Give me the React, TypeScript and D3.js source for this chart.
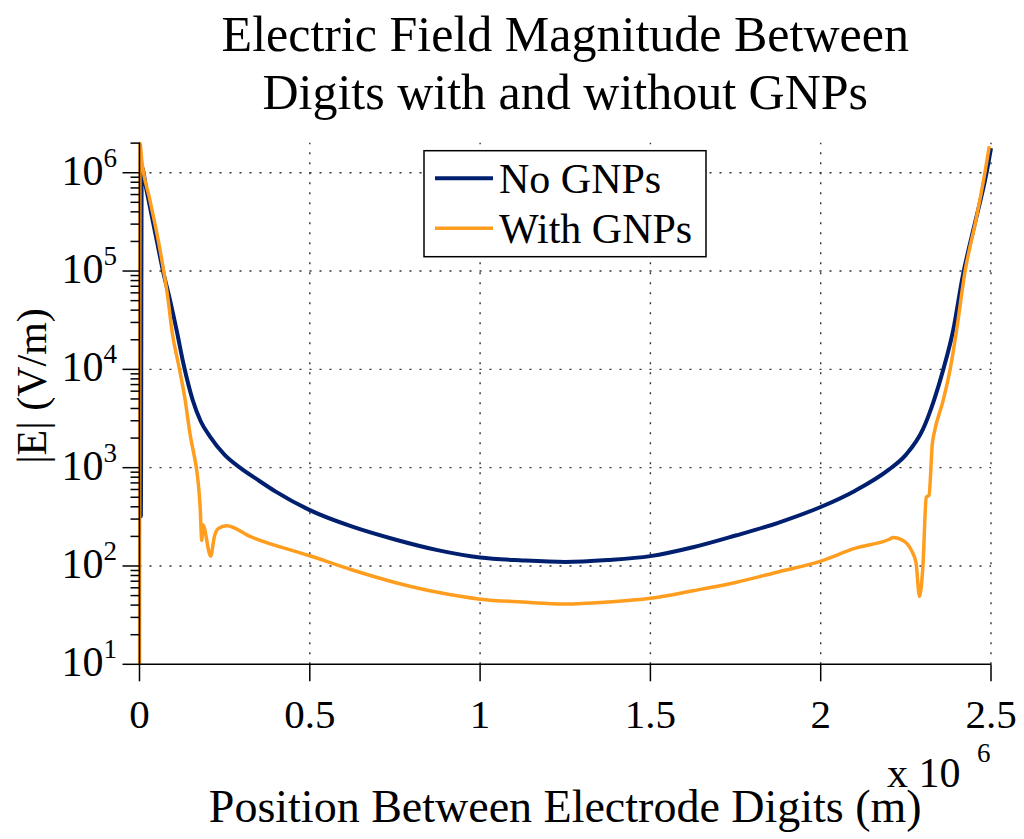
import React from 'react';
import * as d3 from 'd3';

// position along the gap, in units of 10^6 as printed on the axis
const noGnpsX = [
  0, 0.004, 0.0065, 0.02, 0.05, 0.069, 0.09, 0.109, 0.13, 0.156, 0.18, 0.207,
  0.25, 0.295, 0.35, 0.4, 0.5, 0.625, 0.75, 0.875, 1.0, 1.125, 1.25, 1.375,
  1.5, 1.625, 1.75, 1.875, 2.0, 2.1, 2.2, 2.25, 2.3, 2.333, 2.36, 2.389, 2.417,
  2.45, 2.487, 2.5,
];
const noGnpsE = [
  320, 320, 1.15e6, 6.8e5, 2.1e5, 1.0e5, 5.0e4, 2.5e4, 1.1e4, 4.9e3, 2.95e3,
  2.07e3, 1.35e3, 1.0e3, 740, 570, 370, 251, 186, 145, 122, 114, 110, 115,
  126, 155, 204, 275, 398, 580, 955, 1350, 2450, 4900, 1.0e4, 2.5e4, 8.9e4,
  2.8e5, 1.0e6, 1.78e6,
];

const withGnpsX = [
  0, 0.0015, 0.0065, 0.03, 0.06, 0.085, 0.095, 0.115, 0.134, 0.148, 0.163,
  0.166, 0.178, 0.183, 0.186, 0.209, 0.22, 0.231, 0.256, 0.324, 0.5, 0.625,
  0.75, 0.875, 1.0, 1.125, 1.25, 1.375, 1.5, 1.625, 1.75, 1.875, 2.0, 2.1,
  2.2, 2.213, 2.242, 2.266, 2.28, 2.29, 2.3, 2.31, 2.318, 2.328, 2.333, 2.36,
  2.38, 2.399, 2.424, 2.455, 2.482, 2.495,
];
const withGnpsE = [
  1, 2.0e6, 1.35e6, 5.4e5, 1.66e5, 4.8e4, 2.5e4, 1.1e4, 4.9e3, 2.24e3, 1.2e3,
  1.05e3, 400, 182, 263, 126, 200, 240, 257, 200, 127, 91, 68, 54, 46, 43, 41,
  43, 47, 56, 68, 87, 112, 151, 186, 195, 182, 145, 107, 49, 98, 500, 525,
  1780, 2240, 4900, 1.0e4, 2.5e4, 1.0e5, 3.2e5, 1.0e6, 1.86e6,
];

const series = [
  { name: 'No GNPs', color: '#00206f', width: 4, xs: noGnpsX, ys: noGnpsE },
  { name: 'With GNPs', color: '#ff9d1e', width: 3.5, xs: withGnpsX, ys: withGnpsE },
];

const xTicks = [0, 0.5, 1, 1.5, 2, 2.5];
const xTickLabels = ['0', '0.5', '1', '1.5', '2', '2.5'];
const yExponents = [1, 2, 3, 4, 5, 6];

const titleLines = ['Electric Field Magnitude Between', 'Digits with and without GNPs'];
const xLabel = 'Position Between Electrode Digits (m)';
const yLabel = '|E| (V/m)';

const font = 'Liberation Serif, Times New Roman, Times, serif';

const App: React.FC = () => {
  const width = 1024;
  const height = 839;
  const margin = { left: 139.5, right: 33, top: 142.7, bottom: 174.7 };
  const x0 = margin.left;
  const x1 = width - margin.right;
  const y0 = height - margin.bottom;
  const y1 = margin.top;

  const xScale = d3.scaleLinear().domain([0, 2.5]).range([x0, x1]);
  const yScale = d3.scaleLog().domain([10, 2.02e6]).range([y0, y1]);

  const line = d3
    .line<[number, number]>()
    .x((d) => xScale(d[0]))
    .y((d) => yScale(d[1]))
    .curve(d3.curveMonotoneX);

  // minor ticks 2..9 per decade, kept inside the domain
  const minorTicks: number[] = [];
  yExponents.forEach((e) => {
    for (let k = 2; k <= 9; k++) {
      const v = k * Math.pow(10, e);
      if (v <= yScale.domain()[1]) minorTicks.push(v);
    }
  });

  const gridStyle = { stroke: '#333', strokeWidth: 1.4, strokeDasharray: '2 8' };
  const cx = (x0 + x1) / 2;

  return (
    <svg
      width={width}
      height={height}
      style={{ position: 'absolute', left: 0, top: 0, background: '#fff', fontFamily: font }}
    >
      <defs>
        <clipPath id="plot-clip">
          <rect x={x0 - 2} y={y1 - 4} width={x1 - x0 + 6} height={y0 - y1 + 4} />
        </clipPath>
      </defs>

      {/* title */}
      {titleLines.map((t, i) => (
        <text key={t} x={cx} y={51 + i * 58} textAnchor="middle" fontSize={50}>
          {t}
        </text>
      ))}

      {/* grid */}
      {xTicks.slice(1).map((t) => (
        <line key={'gx' + t} x1={xScale(t)} x2={xScale(t)} y1={y0} y2={y1} {...gridStyle} />
      ))}
      {yExponents.slice(1).map((e) => (
        <line
          key={'gy' + e}
          x1={x0}
          x2={x1}
          y1={yScale(Math.pow(10, e))}
          y2={yScale(Math.pow(10, e))}
          {...gridStyle}
        />
      ))}

      {/* data */}
      <g clipPath="url(#plot-clip)">
        {series.map((s) => (
          <path
            key={s.name}
            d={line(s.xs.map((xv, i) => [xv, s.ys[i]] as [number, number])) || ''}
            fill="none"
            stroke={s.color}
            strokeWidth={s.width}
            strokeLinejoin="round"
          />
        ))}
      </g>

      {/* axes */}
      <line x1={x0} x2={x1} y1={y0} y2={y0} stroke="#000" strokeWidth={1.5} />
      <line x1={x0} x2={x0} y1={y0} y2={y1} stroke="#000" strokeWidth={1.5} />
      {xTicks.map((t, i) => (
        <g key={'xt' + t}>
          <line x1={xScale(t)} x2={xScale(t)} y1={y0} y2={y0 + 17} stroke="#000" strokeWidth={1.5} />
          <text x={xScale(t)} y={728} textAnchor="middle" fontSize={41}>
            {xTickLabels[i]}
          </text>
        </g>
      ))}
      {minorTicks.map((v) => (
        <line key={'ym' + v} x1={x0 - 9} x2={x0} y1={yScale(v)} y2={yScale(v)} stroke="#000" strokeWidth={1.5} />
      ))}
      {yExponents.map((e) => {
        const py = yScale(Math.pow(10, e));
        return (
          <g key={'yt' + e}>
            <line x1={x0 - 17} x2={x0} y1={py} y2={py} stroke="#000" strokeWidth={1.5} />
            <text x={117} y={py + 12} textAnchor="end" fontSize={42}>
              10
              <tspan dy={-18} fontSize={27}>
                {e}
              </tspan>
            </text>
          </g>
        );
      })}

      {/* axis labels */}
      <text x={cx} y={822} textAnchor="middle" fontSize={46}>
        {xLabel}
      </text>
      <text x={887} y={787} fontSize={42}>
        x 10
      </text>
      <text x={977} y={762} fontSize={27}>
        6
      </text>
      <text transform={`translate(46, 386) rotate(-90)`} textAnchor="middle" fontSize={42}>
        {yLabel}
      </text>

      {/* legend */}
      <g>
        <rect x={424} y={150.7} width={282} height={106} fill="#fff" stroke="#000" strokeWidth={1.5} />
        {series.map((s, i) => (
          <g key={'lg' + s.name}>
            <line x1={435} x2={493} y1={178.3 + i * 50} y2={178.3 + i * 50} stroke={s.color} strokeWidth={s.width} />
            <text x={499} y={193 + i * 50} fontSize={42}>
              {s.name}
            </text>
          </g>
        ))}
      </g>
    </svg>
  );
};

export default App;
